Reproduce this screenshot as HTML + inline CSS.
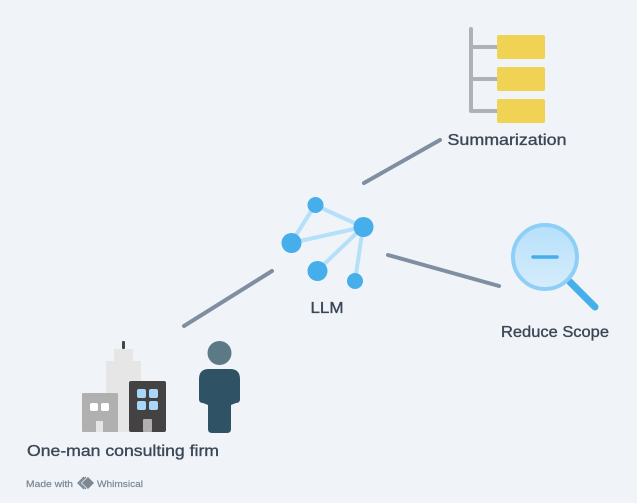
<!DOCTYPE html>
<html><head><meta charset="utf-8"><style>
html,body{margin:0;padding:0;background:#f0f4f8;width:637px;height:503px;overflow:hidden}
svg{display:block}
text{font-family:"Liberation Sans",sans-serif;fill:#3b4656;stroke:#3b4656;stroke-width:.35px}
</style></head><body>
<svg width="637" height="503" viewBox="0 0 637 503" xmlns="http://www.w3.org/2000/svg">
<rect width="637" height="503" fill="#f0f4f8"/>
<!-- connectors -->
<g stroke="#7f8ea0" stroke-width="4" stroke-linecap="round">
<line x1="364" y1="183" x2="440" y2="140"/>
<line x1="388" y1="255" x2="499" y2="286"/>
<line x1="184" y1="326" x2="272" y2="271"/>
</g>
<!-- summarization -->
<g fill="none" stroke="#b0b1b4" stroke-width="4" stroke-linecap="round" stroke-linejoin="round">
<path d="M471 29V111H500M471 47H500M471 79H500"/>
</g>
<g fill="#f0d254">
<rect x="497" y="35" width="48" height="24" rx="2"/>
<rect x="497" y="67" width="48" height="24" rx="2"/>
<rect x="497" y="99" width="48" height="24" rx="2"/>
</g>
<text x="507" y="145" font-size="16" text-anchor="middle" textLength="119" lengthAdjust="spacingAndGlyphs">Summarization</text>
<!-- LLM -->
<g stroke="#b5e0f9" stroke-width="4">
<line x1="315" y1="205" x2="291" y2="243"/>
<line x1="315" y1="205" x2="363" y2="227"/>
<line x1="291" y1="243" x2="363" y2="227"/>
<line x1="317" y1="271" x2="363" y2="227"/>
<line x1="355" y1="281" x2="363" y2="227"/>
</g>
<g fill="#45aeeb">
<circle cx="315.500" cy="205" r="8"/>
<circle cx="363.500" cy="227" r="10"/>
<circle cx="291.500" cy="243" r="10"/>
<circle cx="317.500" cy="271" r="10"/>
<circle cx="355" cy="281" r="8"/>
</g>
<text x="327" y="313" font-size="16" text-anchor="middle" textLength="33" lengthAdjust="spacingAndGlyphs">LLM</text>
<!-- magnifier -->
<line x1="570" y1="282" x2="595" y2="307" stroke="#45aeeb" stroke-width="7" stroke-linecap="round"/>
<defs><linearGradient id="g" x1="0" y1="0" x2="0" y2="1"><stop offset="0" stop-color="#b6e0fb"/><stop offset="1" stop-color="#d6ecfb"/></linearGradient></defs>
<circle cx="545" cy="257" r="32" fill="url(#g)" stroke="#8ecff7" stroke-width="4"/>
<line x1="533" y1="257" x2="557" y2="257" stroke="#45aeeb" stroke-width="3.500" stroke-linecap="round"/>
<text x="555" y="337" font-size="16" text-anchor="middle" textLength="108" lengthAdjust="spacingAndGlyphs">Reduce Scope</text>
<!-- buildings -->
<rect x="122" y="341" width="3" height="8" rx="1" fill="#444"/>
<path d="M114 349H133V361H141V432H106V361H114Z" fill="#e6e6e6"/>
<rect x="82" y="393" width="36" height="39" rx="1" fill="#b0b0b0"/>
<rect x="90" y="403" width="8" height="8" rx="2" fill="#fff"/>
<rect x="101" y="403" width="8" height="8" rx="2" fill="#fff"/>
<rect x="96" y="421" width="7" height="11" fill="#e6e6e6"/>
<rect x="129" y="381" width="37" height="51" rx="2" fill="#444242"/>
<g fill="#a9d7fa">
<rect x="137" y="389" width="9" height="9" rx="2"/>
<rect x="149" y="389" width="9" height="9" rx="2"/>
<rect x="137" y="401" width="9" height="9" rx="2"/>
<rect x="149" y="401" width="9" height="9" rx="2"/>
</g>
<rect x="143" y="419" width="9" height="13" rx="1" fill="#b0b0b0"/>
<!-- person -->
<circle cx="219.500" cy="353" r="12" fill="#5b7a85"/>
<path d="M209 369H230Q240 369 240 379V399Q240 403 236 403L231 405V429Q231 433 227 433H212Q208 433 208 429V405L203 403Q199 403 199 399V379Q199 369 209 369Z" fill="#2f5265"/>
<text x="123" y="456" font-size="16" text-anchor="middle" textLength="192" lengthAdjust="spacingAndGlyphs">One-man consulting firm</text>
<!-- footer -->
<text x="26" y="487" font-size="9.500" style="fill:#7c8794;stroke:#7c8794;stroke-width:.2px" textLength="47" lengthAdjust="spacingAndGlyphs">Made with</text>
<path d="M84 477L78 483L84 489M86 477L80 483L86 489" fill="none" stroke="#7c8794" stroke-width="1.300"/>
<path d="M88 477L94 483L88 489L82 483Z" fill="#7c8794"/>
<text x="97" y="487" font-size="9.500" style="fill:#7c8794;stroke:#7c8794;stroke-width:.2px" textLength="46" lengthAdjust="spacingAndGlyphs">Whimsical</text>
</svg>
</body></html>
